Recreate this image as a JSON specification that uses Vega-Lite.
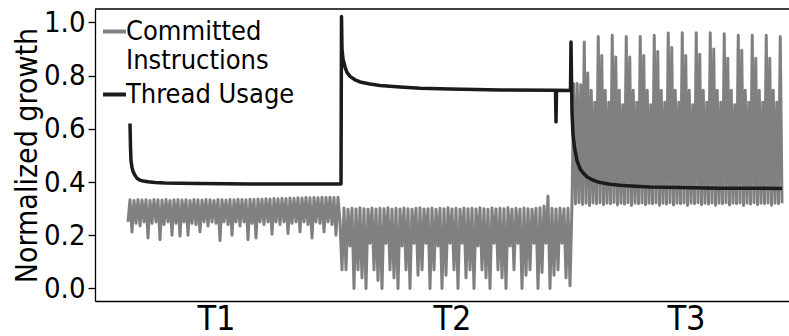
{
"$schema": "https://vega.github.io/schema/vega-lite/v6.json",
"width": 694, "height": 292,
"autosize": {"type": "none"},
"padding": {"left": 95, "top": 9, "right": 0, "bottom": 35},
"background": "white",
"config": {
 "view": {"stroke": null},
 "font": "DejaVu Sans Condensed",
 "axis": {"labelFont": "DejaVu Sans Condensed", "titleFont": "DejaVu Sans Condensed", "labelColor": "black", "titleColor": "black", "domainColor": "black", "tickColor": "black", "domainWidth": 1.3, "tickWidth": 1.3, "grid": false},
 "legend": {"orient": "none", "legendX": 6, "legendY": 9, "padding": 0, "symbolType": "stroke", "symbolSize": 529, "symbolStrokeWidth": 4, "labelFont": "DejaVu Sans Condensed", "labelFontSize": 27, "labelColor": "black", "labelOffset": -2, "labelLimit": 400, "rowPadding": 6}
},
"datasets": {
"ci": [
{"t":128,"v":0.25},{"t":130,"v":0.333},{"t":132,"v":0.212},{"t":134,"v":0.331},{"t":136,"v":0.245},{"t":138,"v":0.334},{"t":140,"v":0.235},{"t":142,"v":0.332},{"t":144,"v":0.25},{"t":146,"v":0.333},{"t":148,"v":0.19},{"t":150,"v":0.331},{"t":152,"v":0.245},{"t":154,"v":0.334},{"t":156,"v":0.25},{"t":158,"v":0.333},{"t":160,"v":0.183},{"t":162,"v":0.332},{"t":164,"v":0.24},{"t":166,"v":0.334},{"t":168,"v":0.25},{"t":170,"v":0.331},{"t":172,"v":0.2},{"t":174,"v":0.333},{"t":176,"v":0.245},{"t":178,"v":0.334},{"t":180,"v":0.197},{"t":182,"v":0.332},{"t":184,"v":0.25},{"t":186,"v":0.333},{"t":188,"v":0.2},{"t":190,"v":0.331},{"t":192,"v":0.245},{"t":194,"v":0.334},{"t":196,"v":0.24},{"t":198,"v":0.333},{"t":200,"v":0.213},{"t":202,"v":0.332},{"t":204,"v":0.25},{"t":206,"v":0.334},{"t":208,"v":0.235},{"t":210,"v":0.333},{"t":212,"v":0.25},{"t":214,"v":0.331},{"t":216,"v":0.245},{"t":218,"v":0.334},{"t":220,"v":0.18},{"t":222,"v":0.333},{"t":224,"v":0.25},{"t":226,"v":0.332},{"t":228,"v":0.24},{"t":230,"v":0.334},{"t":232,"v":0.2},{"t":234,"v":0.333},{"t":236,"v":0.25},{"t":238,"v":0.335},{"t":240,"v":0.235},{"t":242,"v":0.334},{"t":244,"v":0.25},{"t":246,"v":0.333},{"t":248,"v":0.183},{"t":250,"v":0.335},{"t":252,"v":0.245},{"t":254,"v":0.334},{"t":256,"v":0.19},{"t":258,"v":0.336},{"t":260,"v":0.25},{"t":262,"v":0.335},{"t":264,"v":0.24},{"t":266,"v":0.337},{"t":268,"v":0.25},{"t":270,"v":0.336},{"t":272,"v":0.204},{"t":274,"v":0.338},{"t":276,"v":0.25},{"t":278,"v":0.337},{"t":280,"v":0.24},{"t":282,"v":0.339},{"t":284,"v":0.25},{"t":286,"v":0.338},{"t":288,"v":0.207},{"t":290,"v":0.34},{"t":292,"v":0.245},{"t":294,"v":0.339},{"t":296,"v":0.25},{"t":298,"v":0.341},{"t":300,"v":0.213},{"t":302,"v":0.34},{"t":304,"v":0.25},{"t":306,"v":0.342},{"t":308,"v":0.24},{"t":310,"v":0.341},{"t":312,"v":0.19},{"t":314,"v":0.342},{"t":316,"v":0.25},{"t":318,"v":0.341},{"t":320,"v":0.245},{"t":322,"v":0.343},{"t":324,"v":0.213},{"t":326,"v":0.342},{"t":328,"v":0.25},{"t":330,"v":0.343},{"t":332,"v":0.24},{"t":334,"v":0.342},{"t":336,"v":0.2},{"t":338,"v":0.343},{"t":340,"v":0.25},
{"t":342,"v":0.07},{"t":344,"v":0.302},{"t":346,"v":0.07},{"t":348,"v":0.298},{"t":350,"v":0.16},{"t":352,"v":0.301},{"t":354,"v":0.0},{"t":356,"v":0.299},{"t":358,"v":0.07},{"t":360,"v":0.303},{"t":362,"v":0.04},{"t":364,"v":0.3},{"t":366,"v":0.0},{"t":368,"v":0.298},{"t":370,"v":0.17},{"t":372,"v":0.302},{"t":374,"v":0.07},{"t":376,"v":0.299},{"t":378,"v":0.03},{"t":380,"v":0.301},{"t":382,"v":0.0},{"t":384,"v":0.3},{"t":386,"v":0.17},{"t":388,"v":0.303},{"t":390,"v":0.07},{"t":392,"v":0.298},{"t":394,"v":0.04},{"t":396,"v":0.301},{"t":398,"v":0.0},{"t":400,"v":0.299},{"t":402,"v":0.16},{"t":404,"v":0.302},{"t":406,"v":0.07},{"t":408,"v":0.3},{"t":410,"v":0.0},{"t":412,"v":0.298},{"t":414,"v":0.17},{"t":416,"v":0.301},{"t":418,"v":0.05},{"t":420,"v":0.303},{"t":422,"v":0.07},{"t":424,"v":0.299},{"t":426,"v":0.17},{"t":428,"v":0.3},{"t":430,"v":0.0},{"t":432,"v":0.302},{"t":434,"v":0.07},{"t":436,"v":0.298},{"t":438,"v":0.16},{"t":440,"v":0.301},{"t":442,"v":0.0},{"t":444,"v":0.3},{"t":446,"v":0.05},{"t":448,"v":0.303},{"t":450,"v":0.17},{"t":452,"v":0.299},{"t":454,"v":0.07},{"t":456,"v":0.301},{"t":458,"v":0.0},{"t":460,"v":0.298},{"t":462,"v":0.17},{"t":464,"v":0.302},{"t":466,"v":0.04},{"t":468,"v":0.3},{"t":470,"v":0.07},{"t":472,"v":0.301},{"t":474,"v":0.0},{"t":476,"v":0.299},{"t":478,"v":0.16},{"t":480,"v":0.303},{"t":482,"v":0.07},{"t":484,"v":0.3},{"t":486,"v":0.04},{"t":488,"v":0.298},{"t":490,"v":0.0},{"t":492,"v":0.302},{"t":494,"v":0.17},{"t":496,"v":0.299},{"t":498,"v":0.07},{"t":500,"v":0.301},{"t":502,"v":0.04},{"t":504,"v":0.3},{"t":506,"v":0.0},{"t":508,"v":0.303},{"t":510,"v":0.16},{"t":512,"v":0.298},{"t":514,"v":0.07},{"t":516,"v":0.301},{"t":518,"v":0.17},{"t":520,"v":0.299},{"t":522,"v":0.0},{"t":524,"v":0.302},{"t":526,"v":0.05},{"t":528,"v":0.3},{"t":530,"v":0.07},{"t":532,"v":0.298},{"t":534,"v":0.17},{"t":536,"v":0.301},{"t":538,"v":0.0},{"t":540,"v":0.303},{"t":542,"v":0.06},{"t":544,"v":0.31},{"t":546,"v":0.17},{"t":548,"v":0.347},{"t":550,"v":0.0},{"t":552,"v":0.301},{"t":554,"v":0.05},{"t":556,"v":0.299},{"t":558,"v":0.07},{"t":560,"v":0.302},{"t":562,"v":0.17},{"t":564,"v":0.3},{"t":566,"v":0.04},{"t":568,"v":0.301},{"t":570,"v":0.01},
{"t":572,"v":0.32},{"t":573.75,"v":0.77},{"t":575.5,"v":0.318},{"t":577.25,"v":0.77},{"t":579,"v":0.322},{"t":580.75,"v":0.765},{"t":582.5,"v":0.316},{"t":584.25,"v":0.926},{"t":586,"v":0.32},{"t":587.75,"v":0.81},{"t":589.5,"v":0.312},{"t":591.25,"v":0.745},{"t":593,"v":0.321},{"t":594.75,"v":0.7},{"t":596.5,"v":0.318},{"t":598.25,"v":0.947},{"t":600,"v":0.322},{"t":601.75,"v":0.875},{"t":603.5,"v":0.315},{"t":605.25,"v":0.745},{"t":607,"v":0.32},{"t":608.75,"v":0.7},{"t":610.5,"v":0.318},{"t":612.25,"v":0.951},{"t":614,"v":0.323},{"t":615.75,"v":0.87},{"t":617.5,"v":0.314},{"t":619.25,"v":0.745},{"t":621,"v":0.32},{"t":622.75,"v":0.69},{"t":624.5,"v":0.317},{"t":626.25,"v":0.947},{"t":628,"v":0.322},{"t":629.75,"v":0.87},{"t":631.5,"v":0.312},{"t":633.25,"v":0.745},{"t":635,"v":0.32},{"t":636.75,"v":0.7},{"t":638.5,"v":0.318},{"t":640.25,"v":0.947},{"t":642,"v":0.321},{"t":643.75,"v":0.875},{"t":645.5,"v":0.315},{"t":647.25,"v":0.745},{"t":649,"v":0.32},{"t":650.75,"v":0.69},{"t":652.5,"v":0.318},{"t":654.25,"v":0.951},{"t":656,"v":0.322},{"t":657.75,"v":0.89},{"t":659.5,"v":0.313},{"t":661.25,"v":0.745},{"t":663,"v":0.32},{"t":664.75,"v":0.7},{"t":666.5,"v":0.317},{"t":668.25,"v":0.96},{"t":670,"v":0.322},{"t":671.75,"v":0.905},{"t":673.5,"v":0.314},{"t":675.25,"v":0.745},{"t":677,"v":0.32},{"t":678.75,"v":0.7},{"t":680.5,"v":0.318},{"t":682.25,"v":0.961},{"t":684,"v":0.321},{"t":685.75,"v":0.875},{"t":687.5,"v":0.312},{"t":689.25,"v":0.745},{"t":691,"v":0.32},{"t":692.75,"v":0.69},{"t":694.5,"v":0.318},{"t":696.25,"v":0.961},{"t":698,"v":0.322},{"t":699.75,"v":0.88},{"t":701.5,"v":0.315},{"t":703.25,"v":0.745},{"t":705,"v":0.32},{"t":706.75,"v":0.7},{"t":708.5,"v":0.317},{"t":710.25,"v":0.961},{"t":712,"v":0.321},{"t":713.75,"v":0.9},{"t":715.5,"v":0.313},{"t":717.25,"v":0.745},{"t":719,"v":0.32},{"t":720.75,"v":0.7},{"t":722.5,"v":0.318},{"t":724.25,"v":0.957},{"t":726,"v":0.322},{"t":727.75,"v":0.865},{"t":729.5,"v":0.314},{"t":731.25,"v":0.745},{"t":733,"v":0.32},{"t":734.75,"v":0.69},{"t":736.5,"v":0.318},{"t":738.25,"v":0.951},{"t":740,"v":0.321},{"t":741.75,"v":0.895},{"t":743.5,"v":0.312},{"t":745.25,"v":0.745},{"t":747,"v":0.32},{"t":748.75,"v":0.7},{"t":750.5,"v":0.317},{"t":752.25,"v":0.951},{"t":754,"v":0.322},{"t":755.75,"v":0.865},{"t":757.5,"v":0.315},{"t":759.25,"v":0.745},{"t":761,"v":0.32},{"t":762.75,"v":0.7},{"t":764.5,"v":0.318},{"t":766.25,"v":0.951},{"t":768,"v":0.321},{"t":769.75,"v":0.865},{"t":771.5,"v":0.313},{"t":773.25,"v":0.745},{"t":775,"v":0.32},{"t":776.75,"v":0.7},{"t":778.5,"v":0.318},{"t":780.25,"v":0.947},{"t":782,"v":0.32}
],
"tu": [
{"t":130,"v":0.62},{"t":130.5,"v":0.53},{"t":131,"v":0.48},{"t":132,"v":0.455},{"t":133,"v":0.44},{"t":135,"v":0.425},{"t":137,"v":0.414},{"t":140,"v":0.407},{"t":143,"v":0.404},{"t":148,"v":0.401},{"t":155,"v":0.398},{"t":165,"v":0.396},{"t":180,"v":0.395},{"t":200,"v":0.394},{"t":250,"v":0.393},{"t":300,"v":0.393},{"t":341,"v":0.393},{"t":341.5,"v":1.022},{"t":342,"v":0.9},{"t":343,"v":0.862},{"t":345,"v":0.832},{"t":347,"v":0.812},{"t":350,"v":0.797},{"t":355,"v":0.784},{"t":360,"v":0.776},{"t":370,"v":0.768},{"t":380,"v":0.763},{"t":400,"v":0.757},{"t":420,"v":0.752},{"t":450,"v":0.749},{"t":500,"v":0.746},{"t":555.5,"v":0.745},{"t":556,"v":0.626},{"t":556.5,"v":0.745},{"t":570.5,"v":0.744},{"t":571,"v":0.926},{"t":572,"v":0.66},{"t":573,"v":0.58},{"t":574.5,"v":0.53},{"t":577,"v":0.48},{"t":580,"v":0.45},{"t":583,"v":0.435},{"t":587,"v":0.42},{"t":593,"v":0.407},{"t":600,"v":0.398},{"t":610,"v":0.392},{"t":620,"v":0.388},{"t":635,"v":0.384},{"t":650,"v":0.381},{"t":680,"v":0.379},{"t":720,"v":0.377},{"t":782,"v":0.376}
]
},
"layer": [
 {
  "data": {"name": "ci"},
  "mark": {"type": "line", "strokeWidth": 3, "strokeJoin": "round"},
  "encoding": {
   "x": {"field": "t", "type": "quantitative", "scale": {"domain": [95, 789], "nice": false, "zero": false},
         "axis": {"values": [216, 452, 686], "labelExpr": "datum.value < 300 ? 'T1' : datum.value < 600 ? 'T2' : 'T3'", "ticks": false, "title": null, "labelFontSize": 34, "labelPadding": 1, "labelFlush": false, "labelOverlap": false}},
   "y": {"field": "v", "type": "quantitative", "scale": {"domain": [-0.047, 1.05], "nice": false, "zero": false},
         "axis": {"values": [0, 0.2, 0.4, 0.6, 0.8, 1.0], "format": ".1f", "tickSize": 7, "labelFontSize": 29, "labelPadding": 3, "title": "Normalized growth", "titleFontSize": 30, "titleFontWeight": "normal", "titlePadding": 1}},
   "color": {"datum": "Committed Instructions", "type": "nominal",
             "scale": {"domain": ["Committed Instructions", "Thread Usage"], "range": ["#808080", "#1b1b1b"]},
             "legend": {"title": null, "labelExpr": "datum.label == 'Committed Instructions' ? ['Committed', 'Instructions'] : datum.label"}}
  }
 },
 {
  "data": {"name": "tu"},
  "mark": {"type": "line", "strokeWidth": 3.5, "strokeJoin": "round"},
  "encoding": {
   "x": {"field": "t", "type": "quantitative"},
   "y": {"field": "v", "type": "quantitative"},
   "color": {"datum": "Thread Usage", "type": "nominal"}
  }
 },
 {
  "data": {"values": [{}]},
  "mark": {"type": "rule", "color": "black", "strokeWidth": 1.3},
  "encoding": {"y": {"datum": 1.05}}
 }
]
}
